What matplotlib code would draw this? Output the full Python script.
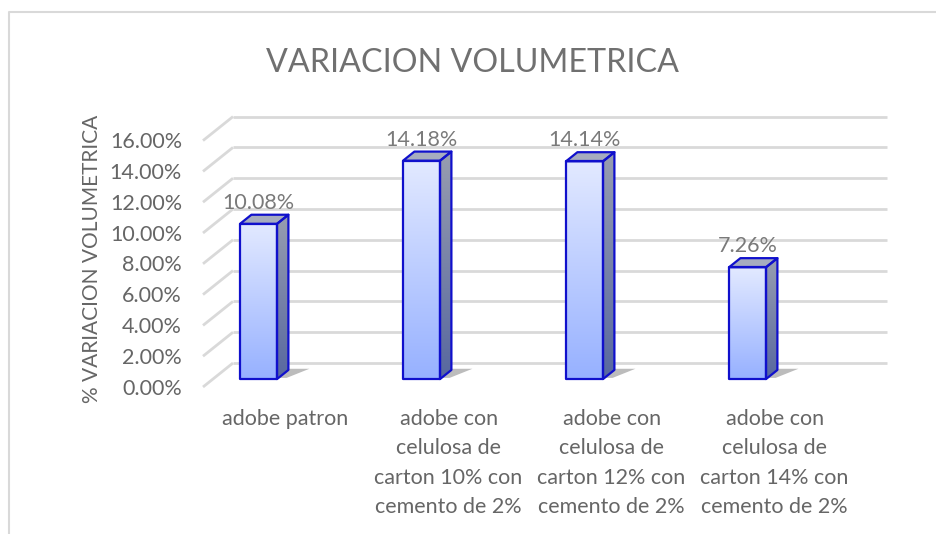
import numpy as np
import matplotlib
matplotlib.use("Agg")
import matplotlib.pyplot as plt
from matplotlib.patches import Polygon
from matplotlib.colors import to_rgb

# ---- data ----
categories = ["adobe patron",
              "adobe con\ncelulosa de\ncarton 10% con\ncemento de 2%",
              "adobe con\ncelulosa de\ncarton 12% con\ncemento de 2%",
              "adobe con\ncelulosa de\ncarton 14% con\ncemento de 2%"]
values = [10.08, 14.18, 14.14, 7.26]          # percent
value_labels = ["10.08%", "14.18%", "14.14%", "7.26%"]
yticks = [0, 2, 4, 6, 8, 10, 12, 14, 16]
ytick_labels = ["0.00%", "2.00%", "4.00%", "6.00%", "8.00%",
                "10.00%", "12.00%", "14.00%", "16.00%"]
title = "VARIACION VOLUMETRICA"
ylabel = "% VARIACION VOLUMETRICA"

# ---- layout (pixel scale of the oblique projection) ----
W, H = 937, 534
X0, SX = 248.6, 163.0      # px of category 0 at front plane, px per category
Y0, SY = 387.0, 15.4       # px (from top) of 0% at front plane, px per percent
DX, DY = 30.0 / SX, 24.0 / SY   # depth offset of back wall in data units
Z_FRONT, Z_BACK = 0.33, 0.71     # bar depth range
HALF_W = 18.5 / SX
WALL_L = (203 - X0) / SX
WALL_R = (887 - 30 - X0) / SX

FONT = ["Lato", "DejaVu Sans"]
TXT = "#666666"
GRID = "#d9d9d9"
EDGE = "#1010cc"
FS = 15.5

fig = plt.figure(figsize=(W / 100, H / 100), dpi=100)
ax = fig.add_axes([0, 0, 1, 1])
ax.set_axis_off()


def P(x, v, z):
    return (x + z * DX, v + z * DY)


def grad_poly(pts, c_top, c_bot, zorder):
    pts = np.array(pts)
    poly = Polygon(pts, closed=True, facecolor="none", edgecolor="none", zorder=zorder)
    ax.add_patch(poly)
    x0, x1 = pts[:, 0].min(), pts[:, 0].max()
    y0, y1 = pts[:, 1].min(), pts[:, 1].max()
    t = np.linspace(0, 1, 64)[:, None]
    ct, cb = np.array(to_rgb(c_top)), np.array(to_rgb(c_bot))
    img = (ct * (1 - t) + cb * t)[:, None, :]
    im = ax.imshow(img, extent=(x0, x1, y0, y1), origin="upper", aspect="auto",
                   interpolation="bilinear", zorder=zorder)
    im.set_clip_path(poly)


# back wall gridlines and side-wall diagonals
for v in yticks:
    a, b = P(WALL_L, v, 1), P(WALL_R, v, 1)
    ax.plot([a[0], b[0]], [a[1], b[1]], color=GRID, lw=2, zorder=1, solid_capstyle="butt")
    c = P(WALL_L, v, 0)
    ax.plot([c[0], a[0]], [c[1], a[1]], color=GRID, lw=2, zorder=1, solid_capstyle="butt")

# bars
for i, v in enumerate(values):
    xl, xr = i - HALF_W, i + HALF_W
    # shadow on the floor
    sh = [P(xl, 0, Z_FRONT + 0.05), P(xr + 0.05, 0, Z_FRONT + 0.05),
          P(xr + 0.12, 0, Z_BACK + 0.05), P(xl + 0.1, 0, Z_BACK + 0.05)]
    ax.add_patch(Polygon(sh, closed=True, facecolor="#404040", alpha=0.35,
                         edgecolor="none", zorder=2))
    front = [P(xl, 0, Z_FRONT), P(xr, 0, Z_FRONT), P(xr, v, Z_FRONT), P(xl, v, Z_FRONT)]
    side = [P(xr, 0, Z_FRONT), P(xr, 0, Z_BACK), P(xr, v, Z_BACK), P(xr, v, Z_FRONT)]
    top = [P(xl, v, Z_FRONT), P(xr, v, Z_FRONT), P(xr, v, Z_BACK), P(xl, v, Z_BACK)]
    grad_poly(front, "#e2e9ff", "#97b1ff", 3)
    grad_poly(side, "#979db0", "#5868a0", 3)
    ax.add_patch(Polygon(top, closed=True, facecolor="#a6acbf", edgecolor="none", zorder=3))
    for pts in (front, side, top):
        ax.add_patch(Polygon(pts, closed=True, facecolor="none", edgecolor=EDGE,
                             lw=1.6, zorder=4, joinstyle="round"))
    lx, ly = P(i, v, Z_BACK)
    ax.text(i + Z_FRONT * DX, ly + 0.78, value_labels[i], ha="center", va="center",
            fontsize=FS, color="#7a7a7a", family=FONT, zorder=5)

# y tick labels
for v, lab in zip(yticks, ytick_labels):
    ax.text((182 - X0) / SX, v - 0.1, lab, ha="right", va="center", fontsize=FS,
            color=TXT, family=FONT)

# category labels
for i, lab in enumerate(categories):
    ax.text(i + 37 / SX, (Y0 - 409) / SY, lab, ha="center", va="top", fontsize=FS,
            color=TXT, family=FONT, linespacing=1.59)

# axis title and chart title
ax.text((92 - X0) / SX, (Y0 - 259) / SY, ylabel, rotation=90, ha="center", va="center",
        fontsize=15, color=TXT, family=FONT)
ax.text((473 - X0) / SX, (Y0 - 63) / SY, title, ha="center", va="center",
        fontsize=23.2, color="#707070", family=FONT)

ax.set_xlim(-X0 / SX, (W - X0) / SX)
ax.set_ylim((Y0 - H) / SY, Y0 / SY)

# chart border
fig.add_artist(plt.Line2D([9.5 / W, 9.5 / W, 1], [0, 1 - 11.5 / H, 1 - 11.5 / H],
                          transform=fig.transFigure, color=GRID, lw=1.5))

fig.savefig("out.png", dpi=100)
